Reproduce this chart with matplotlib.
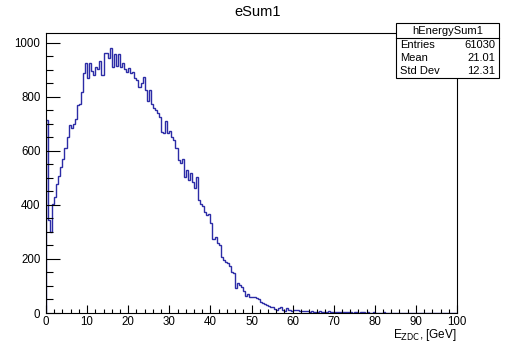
"""eSum1: ZDC energy sum histogram, ROOT-style."""

import numpy as np
import matplotlib

matplotlib.use("Agg")
import matplotlib.pyplot as plt
from matplotlib.patches import Rectangle
from matplotlib.ticker import MultipleLocator

plt.rcParams["font.family"] = ["Liberation Sans", "DejaVu Sans"]

# histogram range, 0.5 GeV bins
X_MIN, X_MAX, N_BINS = 0.0, 100.0, 200

# bin contents, in chunks
counts_rise = [715, 345, 300, 405, 430, 478, 507, 540, 570, 610,
               652, 696, 685, 700, 718, 770, 774, 820, 890, 926]
counts_peak = [870, 926, 895, 881, 911, 904, 933, 881, 963, 963,
               944, 981, 911, 959, 915, 959, 911, 926, 904, 893,
               907, 889, 893, 870, 863, 837, 850, 874, 826, 785]
counts_fall = [826, 775, 758, 750, 741, 725, 670, 665, 710, 665,
               675, 653, 641, 611, 567, 555, 570, 505, 530, 493,
               519, 486, 463, 505, 419, 404, 397, 375, 363, 367,
               334, 273, 280, 258, 252, 208, 196, 190, 184, 174,
               153, 147, 91, 110, 104, 95, 83, 63, 70, 60]
counts_tail = [61, 58, 56, 51, 42, 36, 34, 30, 27, 22,
               23, 16, 12, 19, 21, 10, 9, 17, 12, 7,
               11, 10, 11, 8, 7, 9, 6, 7, 5, 6,
               4, 5, 3, 6, 4, 3, 5, 7, 3, 4,
               2, 5, 3, 4, 2, 3, 2, 4, 2, 1,
               3, 2, 1, 2, 3, 1, 2, 1, 1, 2,
               0, 1, 1, 0, 2, 1, 0, 1, 0, 1,
               1, 0, 0, 1, 0, 0, 1, 0, 0, 0,
               0, 1, 0, 0, 0, 0, 1, 0, 0, 0,
               0, 0, 0, 0, 0, 0, 0, 0, 0, 0]

stat_names = ["Entries", "Mean", "Std Dev"]
stat_values = ["61030", "21.01", "12.31"]
hist_name = "hEnergySum1"

counts = np.array(counts_rise + counts_peak + counts_fall + counts_tail, dtype=float)
edges = np.linspace(X_MIN, X_MAX, N_BINS + 1)

W, H = 508, 345
fig = plt.figure(figsize=(W / 100, H / 100), dpi=100)
fig.patch.set_facecolor("white")

# frame in pixel coords: left 46, right 457, top 33, bottom 313
ax = fig.add_axes([46 / W, 1 - 313 / H, (457 - 46) / W, (313 - 33) / H])
ax.stairs(counts, edges, baseline=0, color="#2c2ca6", lw=1.0)

ax.set_xlim(X_MIN, X_MAX)
ax.set_ylim(0, 1037)

ax.xaxis.set_major_locator(MultipleLocator(10))
ax.xaxis.set_minor_locator(MultipleLocator(2))
ax.yaxis.set_major_locator(MultipleLocator(200))
ax.yaxis.set_minor_locator(MultipleLocator(50))

ax.tick_params(axis="x", which="major", direction="in", length=6, width=0.8,
               pad=2.5, labelsize=8.3, top=False)
ax.tick_params(axis="x", which="minor", direction="in", length=3, width=0.8, top=False)
ax.tick_params(axis="y", which="major", direction="in", length=10, width=0.8,
               pad=4, labelsize=8.3, right=False)
ax.tick_params(axis="y", which="minor", direction="in", length=5, width=0.8, right=False)

for side in ax.spines.values():
    side.set_linewidth(0.8)
    side.set_color("black")

fig.text(0.508, 1 - 12 / H, "eSum1", ha="center", va="center", fontsize=10.5)
fig.text(457 / W, 1 - 338 / H, r"E$_{\mathrm{ZDC}}$, [GeV]", ha="right",
         va="baseline", fontsize=8.5)

# stats box
bx0, bx1, by_top, by_bot, by_sep = 396, 499, 23, 78, 38
fig.patches.append(Rectangle((bx0 / W, 1 - by_bot / H), (bx1 - bx0) / W,
                             (by_bot - by_top) / H, transform=fig.transFigure,
                             facecolor="white", edgecolor="black", lw=0.8,
                             zorder=5))
fig.add_artist(plt.Line2D([bx0 / W, bx1 / W], [1 - by_sep / H, 1 - by_sep / H],
                          transform=fig.transFigure, color="black", lw=0.8,
                          zorder=6))
fig.text((bx0 + bx1) / 2 / W, 1 - 30.5 / H, hist_name, ha="center", va="center",
         fontsize=8, zorder=7)
for i, (name, val) in enumerate(zip(stat_names, stat_values)):
    yy = 1 - (45 + 13 * i) / H
    fig.text((bx0 + 4) / W, yy, name, ha="left", va="center", fontsize=8, zorder=7)
    fig.text((bx1 - 4) / W, yy, val, ha="right", va="center", fontsize=8, zorder=7)

fig.savefig("out.png", dpi=100)
